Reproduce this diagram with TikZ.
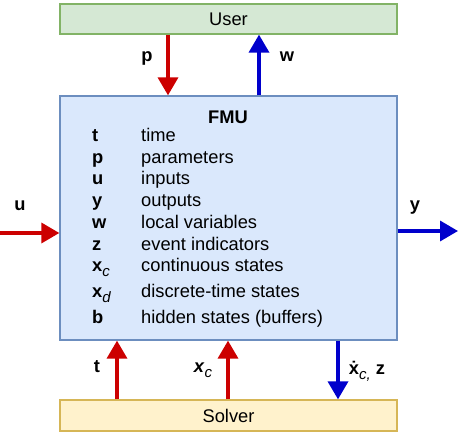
\documentclass[tikz,border=0pt]{standalone}
\usepackage{fontspec}
\setmainfont{Liberation Sans}
\usetikzlibrary{arrows.meta}
\definecolor{usrfill}{HTML}{D5E8D4}
\definecolor{usrline}{HTML}{82B366}
\definecolor{fmufill}{HTML}{DAE8FC}
\definecolor{fmuline}{HTML}{6C8EBF}
\definecolor{solfill}{HTML}{FFF2CC}
\definecolor{solline}{HTML}{D6B656}
\definecolor{inred}{HTML}{CC0000}
\definecolor{outblue}{HTML}{0000CC}
\newcommand{\bigfont}{\fontsize{18.3}{22}\selectfont}
\newcommand{\subc}[1]{\raisebox{-0.45ex}{\fontsize{15}{15}\selectfont\normalfont\itshape #1}}
\tikzset{
  box/.style={draw, line width=1.3pt, minimum width=337pt, inner sep=0pt, font=\bigfont},
  sig/.style={line width=3.5pt, -{Triangle[width=20pt,length=18pt]}},
  lbl/.style={anchor=base, inner sep=0pt, font=\bigfont\bfseries},
  txt/.style={anchor=base west, inner sep=0pt, font=\bigfont}
}
\begin{document}
\begin{tikzpicture}[x=1pt,y=1pt]
\useasboundingbox (0,0) rectangle (460,436);

% blocks
\node[box, fill=usrfill, draw=usrline, minimum height=30pt] (user) at (228.5,417) {User};
\node[box, fill=fmufill, draw=fmuline, minimum height=244pt] (fmu) at (228.5,218) {};
\node[box, fill=solfill, draw=solline, minimum height=31pt] (solver) at (228.5,20.5) {Solver};

% contents of the FMU
\node[lbl] (title) at (228,312.5) {FMU};
\foreach \y/\sym/\desc [count=\i] in {294.5/t/time, 272.5/p/parameters, 251.5/u/inputs,
  229.5/y/outputs, 207/w/local variables, 185/z/event indicators,
  164/x\subc{c}/continuous states, 138/x\subc{d}/discrete-time states,
  112/b/hidden states (buffers)}
{
\node[txt, font=\bigfont\bfseries] (sym\i) at (92,\y) {\sym};
\node[txt] (desc\i) at (141,\y) {\desc};
}

% free ends of the side signals
\coordinate (uin) at (0,203);
\coordinate (yout) at (458,205);

% signals
\draw[sig, inred] (user.south -| 168,0) -- (fmu.north -| 168,0);
\draw[sig, outblue] (fmu.north -| 259,0) -- (user.south -| 259,0);
\draw[sig, inred] (uin) -- (fmu.west |- uin);
\draw[sig, outblue] (fmu.east |- yout) -- (yout);
\draw[sig, inred] (solver.north -| 117,0) -- (fmu.south -| 117,0);
\draw[sig, inred] (solver.north -| 228,0) -- (fmu.south -| 228,0);
\draw[sig, outblue] (fmu.south -| 338,0) -- (solver.north -| 338,0);

% signal labels
\node[lbl] (plbl) at (147,374) {p};
\node[lbl] (wlbl) at (287,374) {w};
\node[lbl] (ulbl) at (20,225) {u};
\node[lbl] (ylbl) at (415,225) {y};
\node[lbl] (tlbl) at (97,63) {t};
\node[lbl] (xclbl) at (203,63) {\textit{x}\subc{c}};
\node[lbl] (dxlbl) at (367,61) {\.{x}\subc{c,} z};
\end{tikzpicture}
\end{document}
